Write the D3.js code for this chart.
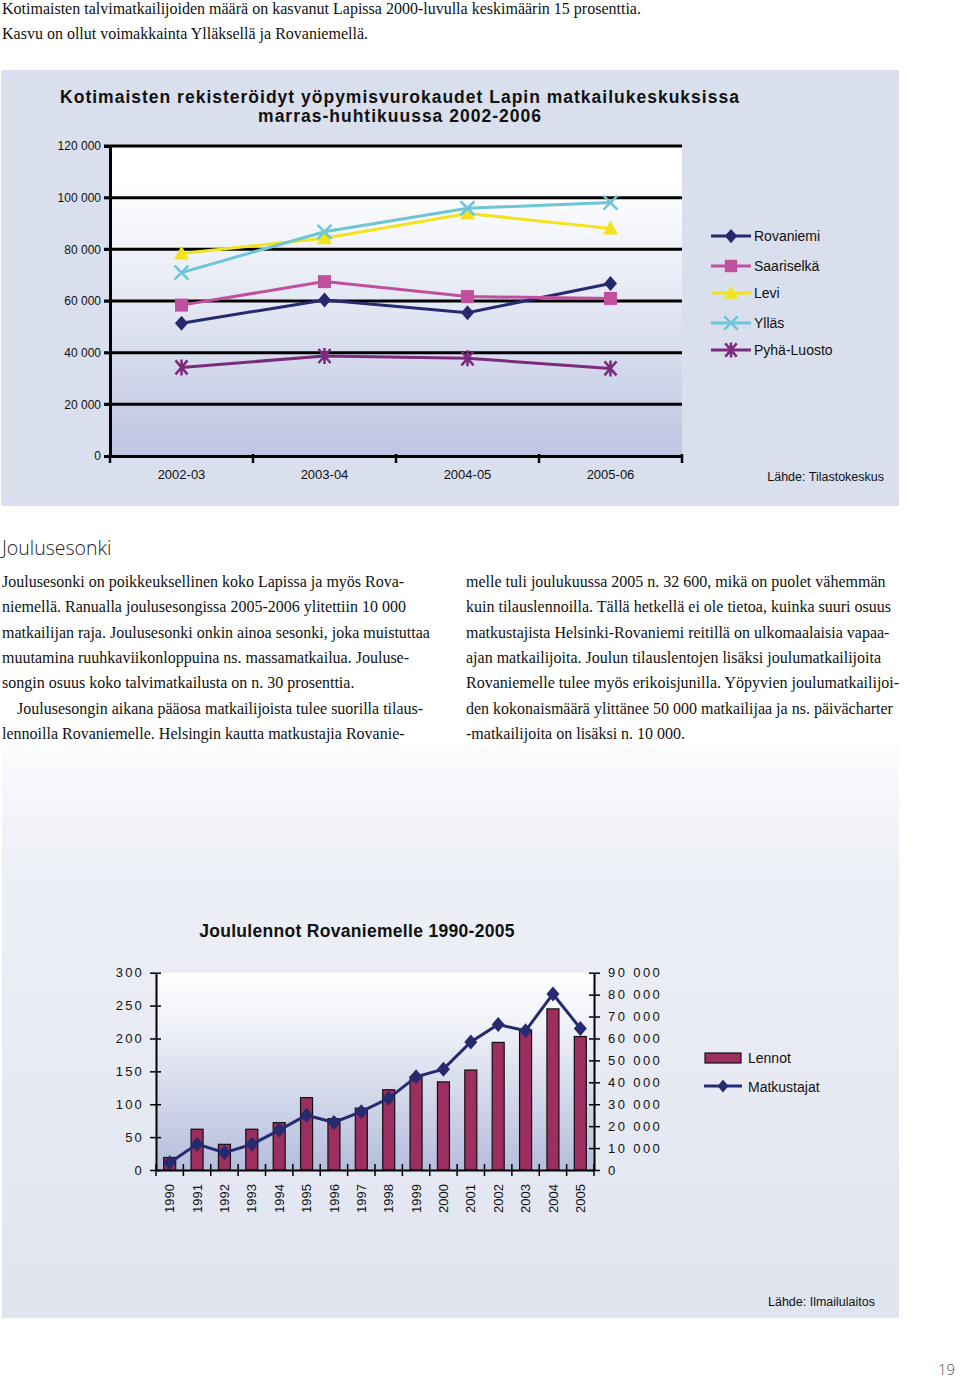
<!DOCTYPE html>
<html><head><meta charset="utf-8">
<script src="https://cdn.jsdelivr.net/npm/d3@7"></script>
<style>
body{margin:0;background:#fff;}
svg{display:block;}
.sans{font-family:"Liberation Sans",Arial,sans-serif;}
.serif{font-family:"Liberation Serif","Times New Roman",serif;}
</style></head>
<body>
<svg id="page" width="960" height="1380"></svg>
<script>
// ---------- DATA: chart 1 ----------
const seasons = ["2002-03","2003-04","2004-05","2005-06"];
const resorts = ["Rovaniemi","Saariselkä","Levi","Ylläs","Pyhä-Luosto"];
const rovaniemi  = [51400, 60400, 55500, 66800];
const saariselka = [58400, 67500, 61700, 61000];
const levi       = [78400, 84300, 93900, 88100];
const yllas      = [71000, 86800, 95900, 98100];
const pyhaLuosto = [34300, 38700, 37800, 33900];
const y1Ticks = [0,20000,40000,60000,80000,100000,120000];

// ---------- DATA: chart 2 ----------
const years = ["1990","1991","1992","1993","1994","1995","1996","1997","1998","1999","2000","2001","2002","2003","2004","2005"];
const lennot = [19, 62, 39, 62, 72, 110, 78, 94, 122, 142, 134, 152, 194, 213, 245, 203];
const matkustajat = [3300, 11800, 7900, 11700, 18200, 25000, 21700, 26600, 32700, 42500, 46000, 58400, 66400, 63500, 80300, 64600];
const leftTicks = [0,50,100,150,200,250,300];
const rightTicks = [0,10000,20000,30000,40000,50000,60000,70000,80000,90000];

// ---------- TEXT ----------
const introLines = [
 "Kotimaisten talvimatkailijoiden määrä on kasvanut Lapissa 2000-luvulla keskimäärin 15 prosenttia.",
 "Kasvu on ollut voimakkainta Ylläksellä ja Rovaniemellä."
];
const leftCol = [
 ["Joulusesonki on poikkeuksellinen koko Lapissa ja myös Rova-",0],
 ["niemellä. Ranualla joulusesongissa 2005-2006 ylitettiin 10 000",0],
 ["matkailijan raja. Joulusesonki onkin ainoa sesonki, joka muistuttaa",0],
 ["muutamina ruuhkaviikonloppuina ns. massamatkailua. Jouluse-",0],
 ["songin osuus koko talvimatkailusta on n. 30 prosenttia.",0],
 ["Joulusesongin aikana pääosa matkailijoista tulee suorilla tilaus-",15],
 ["lennoilla Rovaniemelle. Helsingin kautta matkustajia Rovanie-",0]
];
const rightCol = [
 "melle tuli joulukuussa 2005 n. 32 600, mikä on puolet vähemmän",
 "kuin tilauslennoilla. Tällä hetkellä ei ole tietoa, kuinka suuri osuus",
 "matkustajista Helsinki-Rovaniemi reitillä on ulkomaalaisia vapaa-",
 "ajan matkailijoita. Joulun tilauslentojen lisäksi joulumatkailijoita",
 "Rovaniemelle tulee myös erikoisjunilla. Yöpyvien joulumatkailijoi-",
 "den kokonaismäärä ylittänee 50 000 matkailijaa ja ns. päivächarter",
 "-matkailijoita on lisäksi n. 10 000."
];

const svg = d3.select("#page");
const defs = svg.append("defs");
function vgrad(id, stops){
  const g = defs.append("linearGradient").attr("id",id).attr("x1",0).attr("y1",0).attr("x2",0).attr("y2",1);
  stops.forEach(s=>g.append("stop").attr("offset",s[0]).attr("stop-color",s[1]));
}
vgrad("plot1",[[0,"#ffffff"],[0.12,"#ffffff"],[0.5,"#e4e8f3"],[1,"#bdc5e2"]]);
vgrad("plot2",[[0,"#ffffff"],[0.25,"#f1f3f9"],[1,"#b4bddc"]]);
vgrad("panel2",[[0,"#fbfcfe"],[0.2,"#eef0f7"],[1,"#e0e4ef"]]);

const fmt = d3.formatLocale({decimal:",",thousands:" ",grouping:[3],currency:["","€"]}).format(",");

// intro text
svg.append("g").selectAll("text").data(introLines).join("text")
  .attr("class","serif").attr("x",2).attr("y",14+0.5).attr("y",(d,i)=>14+i*24.5)
  .attr("font-size",16).attr("fill","#111").text(d=>d);

// ================= CHART 1 =================
svg.append("rect").attr("x",1).attr("y",70).attr("width",898).attr("height",436).attr("fill","#d9dfed");
svg.append("text").attr("class","sans").attr("x",400).attr("y",103).attr("text-anchor","middle")
  .attr("font-size",17.5).attr("font-weight","bold").attr("letter-spacing",1.0).attr("fill","#111")
  .text("Kotimaisten rekisteröidyt yöpymisvurokaudet Lapin matkailukeskuksissa");
svg.append("text").attr("class","sans").attr("x",400).attr("y",122).attr("text-anchor","middle")
  .attr("font-size",17.5).attr("font-weight","bold").attr("letter-spacing",1.0).attr("fill","#111")
  .text("marras-huhtikuussa 2002-2006");

const x1 = d3.scaleBand().domain(seasons).range([110,682]);
const y1 = d3.scaleLinear().domain([0,120000]).range([456,146]);

svg.append("rect").attr("x",110).attr("y",y1(120000)).attr("width",572).attr("height",y1(0)-y1(120000)).attr("fill","url(#plot1)");

// gridlines
svg.append("g").selectAll("line").data(y1Ticks.filter(d=>d>0)).join("line")
  .attr("x1",104).attr("x2",682).attr("y1",d=>y1(d)).attr("y2",d=>y1(d))
  .attr("stroke","#000").attr("stroke-width",3);

const yAx1 = svg.append("g").attr("transform","translate(110,0)")
  .call(d3.axisLeft(y1).tickValues(y1Ticks).tickFormat(fmt).tickSize(6).tickPadding(3));
yAx1.select(".domain").attr("stroke","#000").attr("stroke-width",3);
yAx1.selectAll(".tick line").attr("stroke","#000").attr("stroke-width",2);
yAx1.selectAll("text").attr("class","sans").attr("font-size",12).attr("fill","#111");

const xAx1 = svg.append("g").attr("transform","translate(0,456)")
  .call(d3.axisBottom(x1).tickSize(0).tickPadding(14));
xAx1.select(".domain").attr("stroke","#000").attr("stroke-width",3);
xAx1.selectAll("text").attr("class","sans").attr("font-size",13).attr("fill","#111");
svg.append("g").selectAll("line").data(d3.range(seasons.length+1)).join("line")
  .attr("x1",i=>110+i*x1.step()).attr("x2",i=>110+i*x1.step())
  .attr("y1",454).attr("y2",463).attr("stroke","#000").attr("stroke-width",2.5);

const series1 = [
  {name:resorts[0], values:rovaniemi,  color:"#252a70", mk:"diamond"},
  {name:resorts[1], values:saariselka, color:"#c04f9e", mk:"square"},
  {name:resorts[2], values:levi,       color:"#f2e31c", mk:"triangle"},
  {name:resorts[3], values:yllas,      color:"#6cc6d6", mk:"x"},
  {name:resorts[4], values:pyhaLuosto, color:"#7b2a7c", mk:"asterisk"}
];
function marker(g, type, color, s){
  s = s||1;
  if(type==="diamond") g.append("path").attr("d",`M0,${-7.5*s}L${6.5*s},0L0,${7.5*s}L${-6.5*s},0Z`).attr("fill",color);
  if(type==="square") g.append("rect").attr("x",-6.5*s).attr("y",-6.5*s).attr("width",13*s).attr("height",13*s).attr("fill",color);
  if(type==="triangle") g.append("path").attr("d",`M0,${-8*s}L${7.5*s},${6*s}L${-7.5*s},${6*s}Z`).attr("fill",color);
  if(type==="x") g.append("path").attr("d",`M${-7*s},${-7*s}L${7*s},${7*s}M${7*s},${-7*s}L${-7*s},${7*s}`).attr("stroke",color).attr("stroke-width",2.5).attr("fill","none");
  if(type==="asterisk") g.append("path").attr("d",`M${-6*s},${-7*s}L${6*s},${7*s}M${6*s},${-7*s}L${-6*s},${7*s}M0,${-8*s}L0,${8*s}`).attr("stroke",color).attr("stroke-width",2.5).attr("fill","none");
}
const line1 = d3.line().x((d,i)=>x1(seasons[i])+x1.bandwidth()/2).y(d=>y1(d));
series1.forEach(s=>{
  svg.append("path").datum(s.values).attr("d",line1).attr("fill","none").attr("stroke",s.color).attr("stroke-width",3);
});
series1.forEach(s=>{
  s.values.forEach((v,i)=>{
    const g = svg.append("g").attr("transform",`translate(${x1(seasons[i])+x1.bandwidth()/2},${y1(v)})`);
    marker(g,s.mk,s.color);
  });
});
// legend 1
const legY = [236,266,293,323,350];
series1.forEach((s,i)=>{
  const g = svg.append("g").attr("transform",`translate(0,${legY[i]})`);
  g.append("line").attr("x1",711).attr("x2",751).attr("stroke",s.color).attr("stroke-width",3);
  const m = g.append("g").attr("transform","translate(731,0)");
  marker(m,s.mk,s.color,0.95);
  g.append("text").attr("class","sans").attr("x",754).attr("y",5).attr("font-size",14).attr("fill","#111").text(s.name);
});
svg.append("text").attr("class","sans").attr("x",884).attr("y",481).attr("text-anchor","end")
  .attr("font-size",12.5).attr("fill","#111").text("Lähde: Tilastokeskus");

// ================= TEXT SECTION =================
svg.append("text").attr("x",2).attr("y",555).attr("font-family","'Open Sans',sans-serif").attr("font-weight",300)
  .attr("font-size",19.5).attr("fill","#222").text("Joulusesonki");
svg.append("g").selectAll("text").data(leftCol).join("text")
  .attr("class","serif").attr("x",d=>2+d[1]).attr("y",(d,i)=>587+i*25.3)
  .attr("font-size",16).attr("fill","#111").text(d=>d[0]);
svg.append("g").selectAll("text").data(rightCol).join("text")
  .attr("class","serif").attr("x",466).attr("y",(d,i)=>587+i*25.3)
  .attr("font-size",16).attr("fill","#111").text(d=>d);

// ================= CHART 2 =================
svg.append("rect").attr("x",2).attr("y",745).attr("width",897).attr("height",573).attr("fill","url(#panel2)");
svg.append("text").attr("class","sans").attr("x",357).attr("y",937).attr("text-anchor","middle")
  .attr("font-size",17.5).attr("font-weight","bold").attr("letter-spacing",0.3).attr("fill","#111").text("Joululennot Rovaniemelle 1990-2005");

const x2 = d3.scaleBand().domain(years).range([156,594]);
const yL = d3.scaleLinear().domain([0,300]).range([1170,972.7]);
const yR = d3.scaleLinear().domain([0,90000]).range([1170,972.7]);

svg.append("rect").attr("x",156).attr("y",yL(300)).attr("width",438).attr("height",yL(0)-yL(300)).attr("fill","url(#plot2)");

const bw = 12;
svg.append("g").selectAll("rect").data(lennot).join("rect")
  .attr("x",(d,i)=>x2(years[i])+x2.bandwidth()/2-bw/2).attr("width",bw)
  .attr("y",d=>yL(d)).attr("height",d=>yL(0)-yL(d))
  .attr("fill","#9c2f60").attr("stroke","#111").attr("stroke-width",1.2);

const lAx = svg.append("g").attr("transform","translate(156,0)")
  .call(d3.axisLeft(yL).tickValues(leftTicks).tickSizeInner(6).tickSizeOuter(0).tickPadding(6));
lAx.select(".domain").attr("stroke","#000").attr("stroke-width",2);
lAx.selectAll(".tick line").attr("x2",5).attr("x1",-6).attr("stroke","#000").attr("stroke-width",1.5);
lAx.selectAll("text").attr("class","sans").attr("font-size",13).attr("letter-spacing",2.2).attr("fill","#111");

const rAx = svg.append("g").attr("transform","translate(594,0)")
  .call(d3.axisRight(yR).tickValues(rightTicks).tickFormat(fmt).tickSizeInner(6).tickSizeOuter(0).tickPadding(8));
rAx.select(".domain").attr("stroke","#000").attr("stroke-width",2);
rAx.selectAll(".tick line").attr("x1",-5).attr("x2",6).attr("stroke","#000").attr("stroke-width",1.5);
rAx.selectAll("text").attr("class","sans").attr("font-size",13).attr("letter-spacing",2.4).attr("fill","#111");

const xAx2 = svg.append("g").attr("transform","translate(0,1170)")
  .call(d3.axisBottom(x2).tickSize(0).tickPadding(0));
xAx2.select(".domain").attr("stroke","#000").attr("stroke-width",2);
xAx2.selectAll(".tick text").attr("class","sans").attr("font-size",13).attr("fill","#111")
  .attr("transform","translate(0,14) rotate(-90)").attr("text-anchor","end").attr("dy","0.35em").attr("y",0).attr("x",0);
svg.append("g").selectAll("line").data(d3.range(years.length+1)).join("line")
  .attr("x1",i=>156+i*x2.step()).attr("x2",i=>156+i*x2.step())
  .attr("y1",1164).attr("y2",1176).attr("stroke","#000").attr("stroke-width",1.5);

const line2 = d3.line().x((d,i)=>x2(years[i])+x2.bandwidth()/2).y(d=>yR(d));
svg.append("path").datum(matkustajat).attr("d",line2).attr("fill","none").attr("stroke","#262a6e").attr("stroke-width",3);
matkustajat.forEach((v,i)=>{
  const g = svg.append("g").attr("transform",`translate(${x2(years[i])+x2.bandwidth()/2},${yR(v)})`);
  marker(g,"diamond","#262a6e");
});

// legend 2
svg.append("rect").attr("x",705).attr("y",1053).attr("width",36).attr("height",10).attr("fill","#9c2f60").attr("stroke","#111").attr("stroke-width",1.2);
svg.append("text").attr("class","sans").attr("x",748).attr("y",1063).attr("font-size",14).attr("fill","#111").text("Lennot");
svg.append("line").attr("x1",704).attr("x2",742).attr("y1",1086).attr("y2",1086).attr("stroke","#262a6e").attr("stroke-width",3);
marker(svg.append("g").attr("transform","translate(723,1086)"),"diamond","#262a6e",0.85);
svg.append("text").attr("class","sans").attr("x",748).attr("y",1092).attr("font-size",14).attr("fill","#111").text("Matkustajat");

svg.append("text").attr("class","sans").attr("x",875).attr("y",1306).attr("text-anchor","end")
  .attr("font-size",12.5).attr("fill","#111").text("Lähde: Ilmailulaitos");

svg.append("text").attr("x",955).attr("y",1375).attr("text-anchor","end").attr("font-family","'Open Sans',sans-serif")
  .attr("font-weight",300).attr("font-size",15).attr("fill","#555").text("19");
</script>
</body></html>
